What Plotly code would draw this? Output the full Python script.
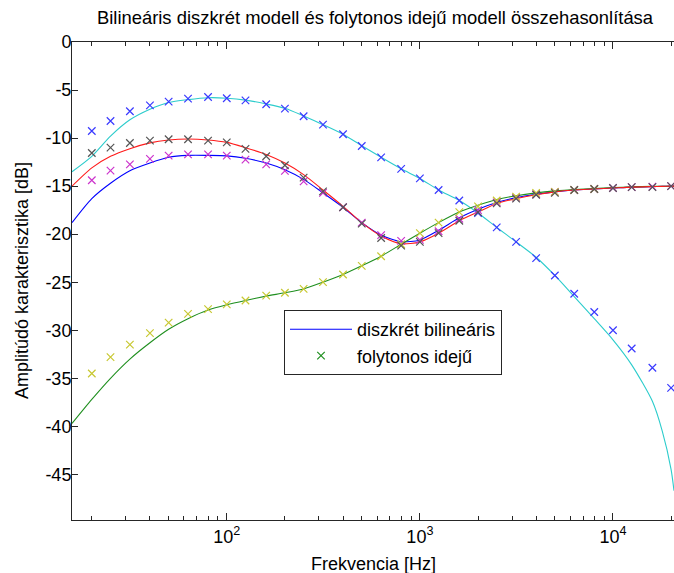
import plotly.graph_objects as go

# Third-octave frequencies of the continuous-time model samples [Hz]
freq_pts = [20, 25, 31.5, 40, 50, 63, 80, 100, 125, 160, 200, 250, 315, 400, 500,
            630, 800, 1000, 1250, 1600, 2000, 2500, 3150, 4000, 5000, 6300, 8000,
            10000, 12500, 16000, 20000]

# Frequencies of the discrete (bilinear) responses [Hz]
freq_line = [15.8] + freq_pts[:-1] + [18000, 20000, 20700]

# Discrete bilinear responses [dB]
disc_lowpass = [-13.5, -11.9, -9.8, -8.1, -7.0, -6.3, -6.0, -5.8, -5.85, -6.05, -6.45,
                -6.9, -7.7, -8.6, -9.6, -10.8, -12.0, -13.2, -14.2, -15.4, -16.5, -17.8,
                -19.3, -20.8, -22.4, -24.3, -26.5, -28.8, -31.0, -33.6, -37.4, -40.5,
                -44.5, -46.7]
disc_blue = [-18.8, -16.3, -14.7, -13.4, -12.6, -12.0, -11.8, -11.8, -11.85, -12.1, -12.6,
             -13.3, -14.3, -15.7, -17.2, -18.8, -20.1, -20.8, -20.6, -19.6, -18.3, -17.4,
             -16.7, -16.2, -15.85, -15.6, -15.4, -15.3, -15.2, -15.1, -15.05, -15.03,
             -15.0, -15.0]
disc_green = [-39.7, -37.2, -35.0, -33.0, -31.3, -29.9, -28.8, -27.9, -27.35, -26.9, -26.45,
              -26.1, -25.7, -25.0, -24.2, -23.3, -22.3, -21.05, -19.9, -18.8, -17.7, -17.0,
              -16.4, -16.0, -15.7, -15.5, -15.35, -15.25, -15.15, -15.08, -15.03, -15.02,
              -15.0, -15.0]
disc_red = [-15.0, -13.1, -11.9, -11.1, -10.5, -10.2, -10.1, -10.2, -10.45, -11.0, -11.7,
            -12.6, -13.8, -15.4, -17.1, -18.8, -20.2, -21.0, -20.8, -19.9, -18.6, -17.7,
            -16.8, -16.3, -15.9, -15.6, -15.4, -15.3, -15.2, -15.1, -15.05, -15.03,
            -15.0, -15.0]

# Continuous-time model responses [dB]
cont_lowpass = [-9.26, -8.22, -7.21, -6.59, -6.2, -5.89, -5.72, -5.85, -6.07, -6.48, -6.93,
                -7.73, -8.6, -9.6, -10.82, -12.0, -13.2, -14.2, -15.4, -16.5, -17.8, -19.3,
                -20.8, -22.5, -24.3, -26.2, -28.1, -30.0, -31.9, -33.9, -36.0]
cont_magenta = [-14.39, -13.38, -12.73, -12.17, -11.82, -11.69, -11.69, -11.82, -12.24,
                -12.73, -13.42, -14.5, -15.71, -17.2, -18.8, -20.1, -20.7, -20.6, -19.7,
                -18.4, -17.5, -16.7, -16.2, -15.85, -15.6, -15.4, -15.3, -15.2, -15.1,
                -15.05, -15.0]
cont_yellow = [-34.5, -32.8, -31.5, -30.3, -29.2, -28.3, -27.8, -27.3, -26.9, -26.4, -26.1,
               -25.7, -25.0, -24.2, -23.3, -22.3, -21.05, -19.9, -18.8, -17.7, -17.1, -16.5,
               -16.1, -15.7, -15.6, -15.4, -15.3]
cont_gray = [-11.55, -10.99, -10.51, -10.26, -10.12, -10.12, -10.26, -10.44, -11.13, -11.89,
             -12.83, -14.11, -15.54, -17.2, -18.9, -20.4, -21.2, -20.8, -19.9, -18.6, -17.7,
             -16.8, -16.3, -15.9, -15.7, -15.4, -15.3, -15.2, -15.1, -15.1, -15.0]

y_ticks = [0, -5, -10, -15, -20, -25, -30, -35, -40, -45]
y_labels = ["0", "-5", "-10", "-15", "-20", "-25", "-30", "-35", "-40", "-45"]
x_ticks = [100, 1000, 10000]
x_labels = ["10<sup>2</sup>", "10<sup>3</sup>", "10<sup>4</sup>"]

FONT = "Arial, Liberation Sans, sans-serif"
FS = 18

# plot area in pixels
PX_L, PX_R, PX_T, PX_B = 72, 674, 42, 520
W, H = 674, 573

fig = go.Figure()


def add_line(y, color, name=None, legend=False):
    fig.add_trace(go.Scatter(
        x=freq_line, y=y, mode="lines", name=name, showlegend=legend,
        line=dict(color=color, width=1.1, shape="spline", smoothing=0.7),
    ))


def add_marks(y, color, n=None):
    xs = freq_pts if n is None else freq_pts[:n]
    fig.add_trace(go.Scatter(
        x=xs, y=y, mode="markers", showlegend=False,
        marker=dict(symbol="x-thin", size=7.5, line=dict(color=color, width=1.2)),
    ))


add_line(disc_lowpass, "#2ccccc")
add_line(disc_blue, "#0000ff", name="diszkrét bilineáris", legend=True)
add_line(disc_green, "#1f8f1f")
add_line(disc_red, "#ff1a1a")

add_marks(cont_lowpass, "#3a3aff")
add_marks(cont_magenta, "#cc33cc")
add_marks(cont_yellow, "#c8c832", n=len(cont_yellow))
add_marks(cont_gray, "#555555")

# legend entry for the continuous-time model
fig.add_trace(go.Scatter(
    x=[None], y=[None], mode="markers", name="folytonos idejű",
    marker=dict(symbol="x-thin", size=7.5, line=dict(color="#1f8f1f", width=1.2)),
))

minor_vals = [m * 10 ** e for e in range(1, 5) for m in range(2, 10)]

pw, ph = PX_R - PX_L, PX_B - PX_T


def px_to_paper(x, y):
    return (x - PX_L) / pw, (PX_B - y) / ph


lx, ly = px_to_paper(284, 310)
xl_x, xl_y = px_to_paper(373, 564)
yl_x, yl_y = px_to_paper(22, 281)

fig.update_layout(
    width=W, height=H,
    margin=dict(l=PX_L, r=W - PX_R, t=PX_T, b=H - PX_B),
    paper_bgcolor="white", plot_bgcolor="white",
    font=dict(family=FONT, size=FS, color="black"),
    title=dict(text="Bilineáris diszkrét modell és folytonos idejű modell összehasonlítása",
               x=375 / W, xanchor="center", y=1 - 18 / H, yanchor="middle",
               yref="container", font=dict(size=18.4)),
    xaxis=dict(
        type="log", range=[1.1985, 4.316],
        showline=True, linecolor="#262626", linewidth=1, mirror="allticks",
        ticks="inside", ticklen=7, tickcolor="#262626",
        tickmode="array", tickvals=x_ticks, ticktext=x_labels,
        minor=dict(ticks="inside", ticklen=4, tickcolor="#262626",
                   tickmode="array", tickvals=minor_vals),
        showgrid=False, zeroline=False, tickfont=dict(size=FS),
    ),
    yaxis=dict(
        range=[-49.75, 0],
        showline=True, linecolor="#262626", linewidth=1,
        ticks="inside", ticklen=6, tickcolor="#262626",
        tickmode="array", tickvals=y_ticks, ticktext=y_labels,
        ticklabelstandoff=-4,
        showgrid=False, zeroline=False, tickfont=dict(size=FS),
    ),
    legend=dict(
        x=lx, y=ly, xanchor="left", yanchor="top",
        bgcolor="white", bordercolor="#262626", borderwidth=1,
        font=dict(size=FS), itemwidth=62, tracegroupgap=0,
    ),
    annotations=[
        dict(text="Frekvencia [Hz]", x=xl_x, y=xl_y, xref="paper", yref="paper",
             showarrow=False, font=dict(size=FS), xanchor="center", yanchor="middle"),
        dict(text="Amplitúdó karakterisztika [dB]", x=yl_x, y=yl_y, xref="paper",
             yref="paper", showarrow=False, textangle=-90, font=dict(size=FS),
             xanchor="center", yanchor="middle"),
    ],
)

fig.write_html("out.html")
